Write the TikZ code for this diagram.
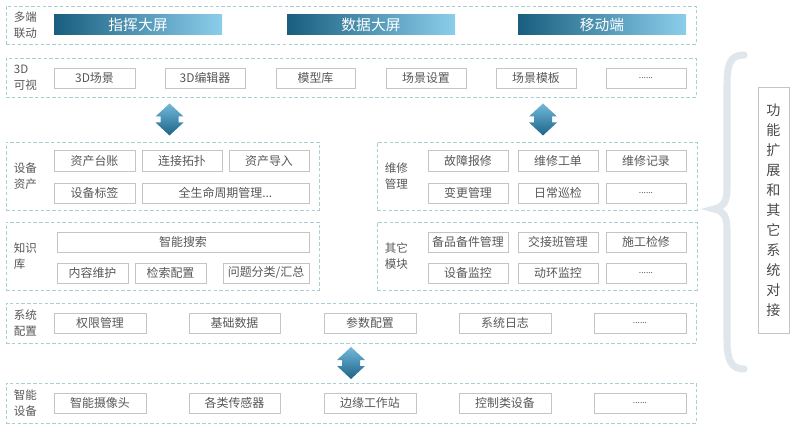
\documentclass[tikz,border=0pt]{standalone}
\usepackage{fontspec}
\setmainfont{Noto Sans CJK SC}
\usetikzlibrary{fit,calc}
\definecolor{Frame}{HTML}{A6D0D4}
\definecolor{CellLine}{HTML}{C4C4C4}
\definecolor{Ink}{HTML}{575757}
\definecolor{BarDark}{HTML}{1A5E7F}
\definecolor{BarLight}{HTML}{8BCEEC}
\definecolor{ArrowTop}{HTML}{72B8DB}
\definecolor{ArrowBot}{HTML}{1C6587}
\definecolor{Brace}{HTML}{DFE7ED}
\newcommand{\more}{{\fontsize{6}{8}\selectfont ......}}

\begin{document}
\begin{tikzpicture}[x=0.025cm,y=-0.025cm,every node/.style={font=\fontsize{8.5}{11}\selectfont,text=Ink},layer/.style={draw=Frame,dash pattern=on 2.5pt off 1.6pt,line width=.6pt,inner sep=0pt},cell/.style={draw=CellLine,line width=.6pt,inner sep=0pt},screen/.style={left color=BarDark,right color=BarLight,inner sep=0pt},screentext/.style={text=white,font=\fontsize{10.5}{12}\selectfont},tag/.style={anchor=west,align=left,inner sep=0pt,font=\fontsize{8.2}{11.3}\selectfont},updown/.style={top color=ArrowTop,bottom color=ArrowBot}]
\useasboundingbox (0,0) rectangle (800,432);
\newcommand{\layer}[6]{\node[layer,fit={(#2,#3)(#4,#5)}](#1){};\node[tag](#1t) at ($(#1.west)+(8,0)$){#6};}
\newcommand{\cell}[6]{\node[cell,fit={(#2,#3)(#4,#5)}](#1){};\node(#1t) at (#1.center){#6};}
\newcommand{\screen}[6]{\node[screen,fit={(#2,#3)(#4,#5)}](#1){};\node[screentext](#1t) at (#1.center){#6};}
\newcommand{\updown}[3]{\coordinate (#1#2) at ($(#2.north)!.5!(#2.north |- #1.south)+(#3,0)$);\shade[updown] ($(#1#2)+(0,-16)$) -- ++(14,13) -- ++(-5,0) -- ++(0,6) -- ++(5,0) -- ++(-14,13) -- ++(-14,-13) -- ++(5,0) -- ++(0,-6) -- ++(-5,0) -- cycle;}
\layer{multi}{6}{6}{696}{44}{多端\\联动}
\screen{cmd}{54}{15}{222}{35}{指挥大屏}
\screen{data}{287}{15}{455}{35}{数据大屏}
\screen{mobile}{518}{15}{686}{35}{移动端}
\layer{vis}{6}{58}{696}{97}{3D\\可视}
\cell{scene}{54}{68}{135}{88}{3D场景}
\cell{editor}{165}{68}{245}{88}{3D编辑器}
\cell{model}{276}{68}{355}{88}{模型库}
\cell{setup}{386}{68}{466}{88}{场景设置}
\cell{tmpl}{496}{68}{576}{88}{场景模板}
\cell{vismore}{606}{68}{686}{88}{\more}
\layer{asset}{6}{142}{319}{210}{设备\\资产}
\cell{ledger}{54}{150}{135}{171}{资产台账}
\cell{topo}{142}{150}{222}{171}{连接拓扑}
\cell{import}{229}{150}{309}{171}{资产导入}
\cell{label}{54}{183}{135}{203}{设备标签}
\cell{life}{142}{183}{309}{203}{全生命周期管理...}
\layer{repair}{377}{142}{697}{210}{维修\\管理}
\cell{fault}{428}{150}{508}{171}{故障报修}
\cell{order}{518}{150}{598}{171}{维修工单}
\cell{record}{606}{150}{686}{171}{维修记录}
\cell{change}{428}{183}{508}{203}{变更管理}
\cell{patrol}{518}{183}{598}{203}{日常巡检}
\cell{repmore}{606}{183}{686}{203}{\more}
\layer{know}{6}{222}{319}{290}{知识\\库}
\cell{search}{57}{232}{309}{252}{智能搜索}
\cell{content}{57}{263}{128}{283}{内容维护}
\cell{index}{135}{263}{206}{283}{检索配置}
\cell{issue}{223}{263}{309}{283}{问题分类/汇总}
\layer{other}{377}{222}{697}{290}{其它\\模块}
\cell{spare}{428}{232}{508}{252}{备品备件管理}
\cell{shift}{518}{232}{598}{252}{交接班管理}
\cell{work}{606}{232}{686}{252}{施工检修}
\cell{monitor}{428}{263}{508}{283}{设备监控}
\cell{env}{518}{263}{598}{283}{动环监控}
\cell{othmore}{606}{263}{686}{283}{\more}
\layer{sys}{6}{303}{696}{343}{系统\\配置}
\cell{perm}{54}{313}{146}{333}{权限管理}
\cell{base}{189}{313}{280}{333}{基础数据}
\cell{param}{324}{313}{416}{333}{参数配置}
\cell{log}{459}{313}{551}{333}{系统日志}
\cell{sysmore}{594}{313}{686}{333}{\more}
\layer{dev}{6}{383}{696}{423}{智能\\设备}
\cell{camera}{54}{393}{146}{413}{智能摄像头}
\cell{sensor}{189}{393}{280}{413}{各类传感器}
\cell{edge}{324}{393}{416}{413}{边缘工作站}
\cell{ctrl}{459}{393}{551}{413}{控制类设备}
\cell{devmore}{594}{393}{686}{413}{\more}
\updown{vis}{asset}{7}
\updown{vis}{repair}{6}
\updown{sys}{dev}{0}
\draw[Brace,line width=5pt,line cap=round] (744,55) .. controls (730,55) and (727,64) .. (727,86) -- (727,188) .. controls (727,203) and (723,207) .. (714,209) .. controls (723,211) and (727,215) .. (727,230) -- (727,340) .. controls (727,360) and (731,369) .. (744,369);
\node[cell,fit={(758,87)(789,333)}](ext){};
\node[align=center,text=Ink!85!black,font=\fontsize{10}{14.2}\selectfont](extt) at (ext.center){功\\能\\扩\\展\\和\\其\\它\\系\\统\\对\\接};
\end{tikzpicture}
\end{document}
